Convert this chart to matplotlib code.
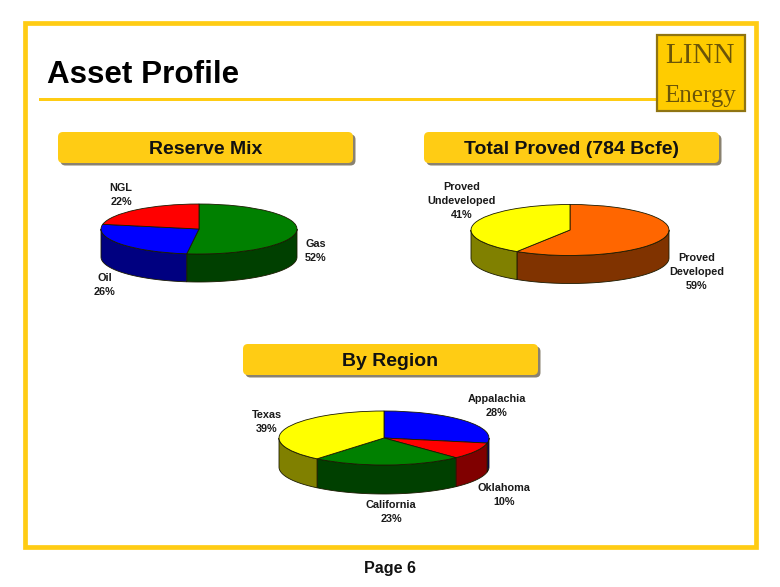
import matplotlib
matplotlib.use("Agg")
import matplotlib.pyplot as plt
from matplotlib.patches import FancyBboxPatch, Rectangle
import numpy as np

W, H = 780, 587

# data
reserve_names = ["Gas", "Oil", "NGL"]
reserve_vals = [52, 26, 22]
proved_names = ["Proved\nDeveloped", "Proved\nUndeveloped"]
proved_vals = [59, 41]
region_names = ["Appalachia", "Oklahoma", "California", "Texas"]
region_vals = [28, 10, 23, 39]

GOLD = "#FFCC14"
TOP = {"green": "#008000", "blue": "#0000FF", "red": "#FF0000", "orange": "#FF6600", "yellow": "#FFFF00"}
WALL = {"green": "#004000", "blue": "#000080", "red": "#800000", "orange": "#803300", "yellow": "#808000"}
EDGE = "#1a1a00"

plt.rcParams["font.family"] = ["Liberation Sans", "DejaVu Sans"]

fig = plt.figure(figsize=(W / 100, H / 100), dpi=100, facecolor="white")
bg = fig.add_axes([0, 0, 1, 1])
bg.set_xlim(0, W)
bg.set_ylim(H, 0)
bg.axis("off")


def pie3d(vals, colors, cx, cy, rx, ry, depth):
    ax = fig.add_axes([(cx - rx) / W, 1 - (cy + ry + depth) / H, 2 * rx / W, (2 * ry + depth) / H])
    d = depth / ry
    ax.pie(vals, colors=[TOP[c] for c in colors], startangle=90, counterclock=False, radius=1,
           wedgeprops={"edgecolor": EDGE, "linewidth": 0.6})
    # side wall, only the part of each slice facing the viewer
    edges = np.cumsum([0] + list(vals)) / sum(vals) * 2 * np.pi
    for i, c in enumerate(colors):
        a = max(edges[i], np.pi / 2)
        b = min(edges[i + 1], 3 * np.pi / 2)
        if b <= a:
            continue
        t = np.linspace(a, b, 80)
        xs = np.r_[np.sin(t), np.sin(t[::-1])]
        ys = np.r_[np.cos(t), np.cos(t[::-1]) - d]
        ax.fill(xs, ys, facecolor=WALL[c], edgecolor=EDGE, linewidth=0.6, zorder=0, clip_on=False)
    ax.set_aspect("auto")
    ax.set_xlim(-1, 1)
    ax.set_ylim(-1 - d, 1)
    ax.axis("off")


def banner(x0, x1, y0, y1, txt):
    bg.add_patch(FancyBboxPatch((x0 + 2.5, y0 + 2.5), x1 - x0, y1 - y0, boxstyle="round,pad=0,rounding_size=5",
                                facecolor="#8a8270", edgecolor="none"))
    bg.add_patch(FancyBboxPatch((x0, y0), x1 - x0, y1 - y0, boxstyle="round,pad=0,rounding_size=5",
                                facecolor=GOLD, edgecolor="none"))
    bg.text((x0 + x1) / 2, y1 - 9.5, txt, ha="center", va="baseline", fontsize=14, fontweight="bold", color="#111111")


def label(x, y, name, val):
    bg.text(x, y, f"{name}\n{val}%", ha="center", va="center", fontsize=7.8, fontweight="bold",
            color="#1a1a1a", linespacing=1.45, multialignment="center")


# frame
bg.add_patch(Rectangle((25, 22.5), 730.5, 524, fill=False, edgecolor=GOLD, linewidth=3.4))

# header
bg.text(47, 83, "Asset Profile", fontsize=22.6, fontweight="bold", color="black", ha="left", va="baseline")
bg.add_patch(Rectangle((39, 98), 618, 3, facecolor=GOLD, edgecolor="none"))

# logo
bg.add_patch(Rectangle((656.5, 34.5), 88, 76, facecolor="#FFCC00", edgecolor="#8f7412", linewidth=1.6))
bg.text(700, 63, "LINN", family="Liberation Serif", fontsize=21, color="#6b5508", ha="center", va="baseline")
bg.text(700, 102, "Energy", family="Liberation Serif", fontsize=18, color="#6b5508", ha="center", va="baseline")

banner(58, 353, 132, 163, "Reserve Mix")
banner(424, 719, 132, 163, "Total Proved (784 Bcfe)")
banner(243, 538, 344, 375, "By Region")

pie3d(reserve_vals, ["green", "blue", "red"], 199, 229, 98, 25, 28)
pie3d(proved_vals, ["orange", "yellow"], 570, 230, 99, 25.5, 28)
pie3d(region_vals, ["blue", "red", "green", "yellow"], 384, 438, 105, 27, 29)

label(316, 251, reserve_names[0], reserve_vals[0])
label(105, 285, reserve_names[1], reserve_vals[1])
label(121, 195, reserve_names[2], reserve_vals[2])
label(697, 272, proved_names[0], proved_vals[0])
label(462, 201, proved_names[1], proved_vals[1])
label(497, 406, region_names[0], region_vals[0])
label(504, 495, region_names[1], region_vals[1])
label(391, 512, region_names[2], region_vals[2])
label(267, 422, region_names[3], region_vals[3])

bg.text(390, 569, "Page 6", fontsize=11.6, fontweight="bold", color="#111111", ha="center", va="center")

fig.savefig("out.png", dpi=100)
